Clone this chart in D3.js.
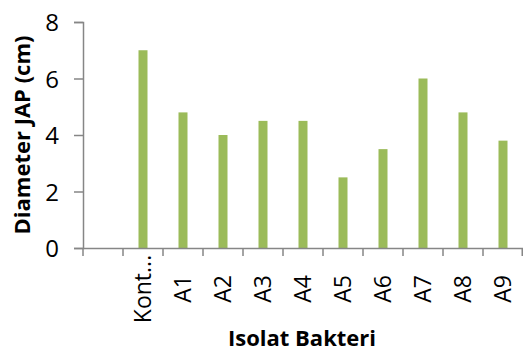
<!DOCTYPE html>
<html><head><meta charset="utf-8">
<script src="https://cdn.jsdelivr.net/npm/d3@7"></script>
<style>body{margin:0;background:#fff}svg{display:block}</style>
</head><body>
<svg id="c" width="523" height="352"></svg>
<script>
const categories = ["", "Kont...", "A1", "A2", "A3", "A4", "A5", "A6", "A7", "A8", "A9"];
const values = [null, 7, 4.8, 4, 4.5, 4.5, 2.5, 3.5, 6, 4.8, 3.8];
const yTicks = [0, 2, 4, 6, 8];
const xTitle = "Isolat Bakteri";
const yTitle = "Diameter JAP (cm)";

const svg = d3.select("#c");
const font = "'Open Sans', sans-serif";
const axisColor = "#868686";
const x = d3.scaleBand().domain(categories).range([83, 523]).padding(0);
const y = d3.scaleLinear().domain([0, 8]).range([248, 22]);

// bars
const bw = x.bandwidth() * 0.225;
svg.append("g").selectAll("rect")
  .data(categories.map((c, i) => ({c, v: values[i]})).filter(d => d.v != null))
  .join("rect")
  .attr("x", d => x(d.c) + x.bandwidth() / 2 - bw / 2)
  .attr("y", d => y(d.v))
  .attr("width", bw)
  .attr("height", d => y(0) - y(d.v))
  .attr("fill", "#9BBB59");

// y axis
const ya = svg.append("g").attr("transform", "translate(83,0)")
  .call(d3.axisLeft(y).tickValues(yTicks).tickSize(9).tickPadding(15).tickFormat(d3.format("d")));
ya.select(".domain").attr("stroke", axisColor).attr("stroke-width", 1.5);
ya.selectAll(".tick line").attr("stroke", axisColor).attr("stroke-width", 1.5);
ya.selectAll(".tick text").attr("fill", "#000").attr("dy", "0.36em")
  .style("font-family", font).style("font-size", "24px");

// x axis
const xa = svg.append("g").attr("transform", "translate(0,248)")
  .call(d3.axisBottom(x).tickSize(0).tickSizeOuter(0));
xa.select(".domain").attr("stroke", axisColor).attr("stroke-width", 1.5);
xa.selectAll(".tick text")
  .attr("fill", "#000")
  .style("font-family", font).style("font-size", "23px")
  .attr("text-anchor", "middle")
  .attr("transform", "rotate(-90)")
  .attr("x", -41).attr("y", 0).attr("dy", "0.36em");
const bounds = categories.map(c => x(c)).concat([x.range()[1] - 0.75]);
xa.selectAll(".btick").data(bounds).join("line")
  .attr("class", "btick")
  .attr("x1", d => d).attr("x2", d => d)
  .attr("y1", 0).attr("y2", 8)
  .attr("stroke", axisColor).attr("stroke-width", 1.5);

// titles
svg.append("text").text(xTitle)
  .attr("x", 302).attr("y", 346)
  .attr("text-anchor", "middle")
  .style("font-family", font).style("font-weight", "bold").style("font-size", "22px");
svg.append("text").text(yTitle)
  .attr("transform", "translate(22.5,135) rotate(-90)")
  .attr("text-anchor", "middle").attr("dy", "0.36em")
  .style("font-family", font).style("font-weight", "bold").style("font-size", "22px");
</script>
</body></html>
